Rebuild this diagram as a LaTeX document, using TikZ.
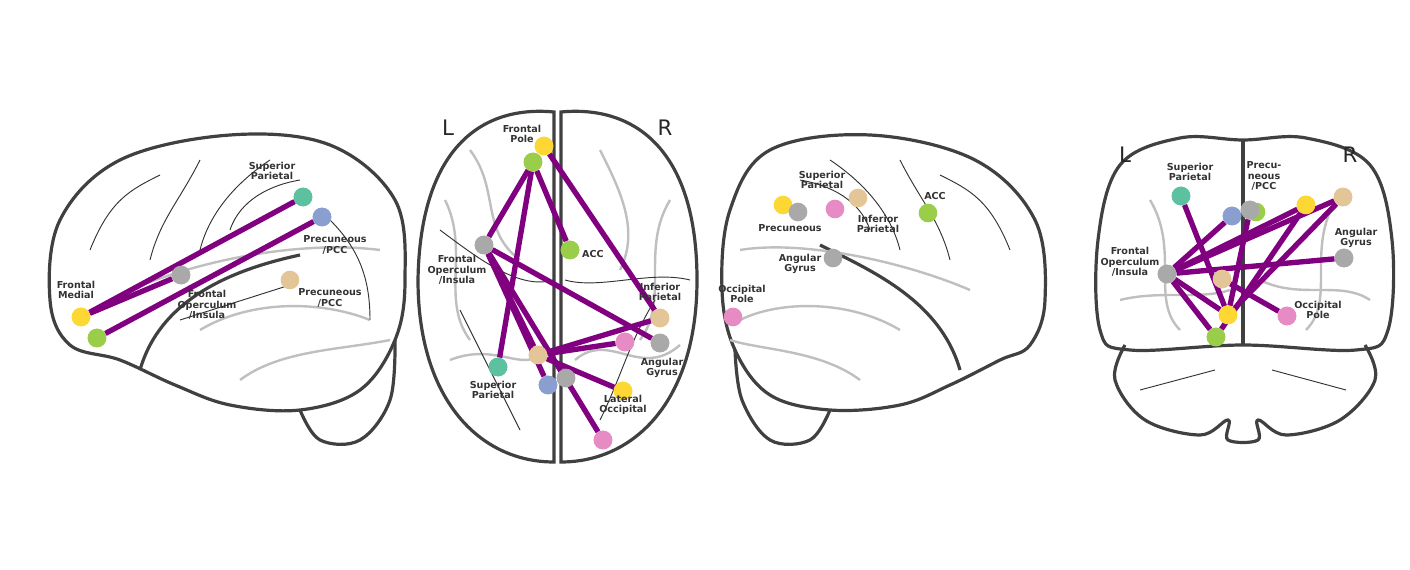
\documentclass[tikz,border=0pt]{standalone}
\usepackage{fontspec}
\setmainfont{DejaVu Sans}
\begin{document}
\begin{tikzpicture}[x=0.75pt,y=-0.75pt,
  brain/.style={line width=2.4pt,draw=black!75},
  gyr/.style={line width=1.8pt,draw=black!25},
  sul/.style={line width=0.7pt,draw=black!80},
  roi/.style={circle,minimum size=14pt,inner sep=0pt,fill=#1},
  ed/.style={line width=4pt,draw=ep},
  lab/.style={font=\fontsize{7.2}{7.8}\selectfont\bfseries,text=black!80,align=center,inner sep=1pt},
  big/.style={font=\fontsize{16}{17}\selectfont,text=black!85}]
\definecolor{cy}{HTML}{FDD835}\definecolor{cg}{HTML}{9ACD4A}\definecolor{cgr}{HTML}{A9A9A9}
\definecolor{ct}{HTML}{5CC1A0}\definecolor{cb}{HTML}{8A9FCF}\definecolor{cta}{HTML}{E3C597}
\definecolor{cp}{HTML}{E68BC4}\definecolor{ep}{HTML}{800080}
\useasboundingbox (0,0) rectangle (1410,570);
% ---------- panel 1: left sagittal ----------
\draw[brain] plot[smooth cycle,tension=0.6] coordinates{(50,300)(60,220)(120,160)(230,135)(330,145)(395,200)(405,280)(395,340)(360,390)(300,410)(230,405)(175,385)(120,360)(70,345)};
\draw[brain] plot[smooth,tension=0.6] coordinates{(300,410)(320,440)(360,440)(390,400)(395,340)};
\draw[brain] (140,370) .. controls (160,300) and (230,270) .. (300,255);
\draw[gyr] (130,290) .. controls (200,260) and (300,240) .. (380,250);
\draw[gyr] (200,330) .. controls (250,300) and (320,300) .. (370,320);
\draw[gyr] (240,380) .. controls (280,350) and (340,350) .. (390,340);
\draw[sul] (90,250) .. controls (110,200) and (130,190) .. (160,175);
\draw[sul] (150,260) .. controls (160,220) and (180,200) .. (200,160);
\draw[sul] (200,250) .. controls (210,210) and (240,180) .. (270,160);
\draw[sul] (230,230) .. controls (240,200) and (270,185) .. (300,180);
\draw[sul] (180,320) -- (290,285);
\draw[sul] (330,220) .. controls (360,250) and (370,280) .. (370,320);
\node[roi=ct] (a1) at (303,197) {};
\node[roi=cb] (a2) at (322,217) {};
\node[roi=cgr] (a3) at (181,275) {};
\node[roi=cta] (a4) at (290,280) {};
\node[roi=cy] (a5) at (81,317) {};
\node[roi=cg] (a6) at (97,338) {};
\draw[ed] (a5) -- (a1); \draw[ed] (a5) -- (a3); \draw[ed] (a6) -- (a2);
\node[roi=cy] at (81,317) {}; \node[roi=cg] at (97,338) {};
\node[roi=cgr] at (181,275) {}; \node[roi=ct] at (303,197) {}; \node[roi=cb] at (322,217) {};
\node[lab] at (272,171) {Superior\\Parietal};
\node[lab] at (335,245) {Precuneous\\/PCC};
\node[lab] at (207,305) {Frontal\\Operculum\\/Insula};
\node[lab] at (330,298) {Precuneous\\/PCC};
\node[lab] at (76,290) {Frontal\\Medial};
% ---------- panel 2: axial ----------
\draw[brain] (554,112) .. controls (480,105) and (420,150) .. (418,280) .. controls (418,400) and (480,462) .. (554,462) -- cycle;
\draw[brain] (561,112) .. controls (635,105) and (697,150) .. (697,280) .. controls (697,400) and (635,462) .. (561,462) -- cycle;
\draw[gyr] (445,200) .. controls (470,250) and (440,300) .. (470,340);
\draw[gyr] (450,360) .. controls (500,340) and (530,380) .. (545,345);
\draw[gyr] (670,200) .. controls (640,250) and (670,300) .. (640,340);
\draw[gyr] (575,360) .. controls (610,330) and (640,380) .. (680,345);
\draw[gyr] (470,150) .. controls (500,190) and (480,230) .. (520,260);
\draw[gyr] (600,150) .. controls (620,190) and (640,230) .. (620,270);
\draw[sul] (440,230) .. controls (480,260) and (520,290) .. (553,280);
\draw[sul] (690,280) .. controls (650,270) and (600,290) .. (565,280);
\draw[sul] (460,310) .. controls (480,350) and (500,390) .. (520,430);
\draw[sul] (655,300) .. controls (630,340) and (620,380) .. (600,420);
\node[big] at (448,128) {L}; \node[big] at (665,128) {R};
\node[roi=cy] (b1) at (544,146) {};
\node[roi=cg] (b2) at (533,162) {};
\node[roi=cgr] (b3) at (484,245) {};
\node[roi=cg] (b4) at (570,250) {};
\node[roi=cta] (b5) at (660,318) {};
\node[roi=cp] (b6) at (625,342) {};
\node[roi=cgr] (b7) at (660,343) {};
\node[roi=cta] (b8) at (538,355) {};
\node[roi=ct] (b9) at (498,367) {};
\node[roi=cb] (b10) at (548,385) {};
\node[roi=cgr] (b11) at (566,378) {};
\node[roi=cy] (b12) at (623,391) {};
\node[roi=cp] (b13) at (603,440) {};
\draw[ed] (b2) -- (b3); \draw[ed] (b2) -- (b9); \draw[ed] (b2) -- (b4);
\draw[ed] (b1) -- (b5); \draw[ed] (b3) -- (b7); \draw[ed] (b3) -- (b10);
\draw[ed] (b3) -- (b8); \draw[ed] (b8) -- (b5); \draw[ed] (b8) -- (b6);
\draw[ed] (b8) -- (b12); \draw[ed] (b3) -- (b13);
\node[roi=cy] at (544,146) {}; \node[roi=cg] at (533,162) {};
\node[roi=cgr] at (484,245) {}; \node[roi=cta] at (538,355) {};
\node[roi=cb] at (548,385) {}; \node[roi=cgr] at (566,378) {};
\node[roi=cg] at (570,250) {}; \node[roi=cta] at (660,318) {};
\node[roi=cp] at (625,342) {}; \node[roi=cgr] at (660,343) {};
\node[roi=ct] at (498,367) {}; \node[roi=cy] at (623,391) {}; \node[roi=cp] at (603,440) {};
\node[lab] at (522,134) {Frontal\\Pole};
\node[lab] at (593,254) {ACC};
\node[lab] at (457,270) {Frontal\\Operculum\\/Insula};
\node[lab] at (660,292) {Inferior\\Parietal};
\node[lab] at (662,368) {Angular\\Gyrus};
\node[lab] at (493,390) {Superior\\Parietal};
\node[lab] at (623,405) {Lateral\\Occipital};
% ---------- panel 3: right sagittal ----------
\draw[brain] plot[smooth cycle,tension=0.6] coordinates{(1045,300)(1035,220)(975,160)(870,135)(770,150)(730,210)(722,290)(735,350)(770,395)(830,410)(900,405)(950,385)(1000,360)(1030,345)};
\draw[brain] plot[smooth,tension=0.6] coordinates{(830,410)(810,440)(770,440)(742,400)(735,350)};
\draw[brain] (960,370) .. controls (940,300) and (870,270) .. (820,245);
\draw[gyr] (970,290) .. controls (900,260) and (800,240) .. (740,250);
\draw[gyr] (900,330) .. controls (850,300) and (780,300) .. (740,320);
\draw[gyr] (860,380) .. controls (820,350) and (760,350) .. (730,340);
\draw[sul] (1010,250) .. controls (990,200) and (970,190) .. (940,175);
\draw[sul] (950,260) .. controls (940,220) and (920,200) .. (900,160);
\draw[sul] (900,250) .. controls (890,210) and (860,180) .. (830,160);
\draw[sul] (870,230) .. controls (860,200) and (830,185) .. (800,180);
\node[roi=cy] (c1) at (783,205) {};
\node[roi=cgr] (c2) at (798,212) {};
\node[roi=cp] (c3) at (835,209) {};
\node[roi=cta] (c4) at (858,198) {};
\node[roi=cg] (c5) at (928,213) {};
\node[roi=cgr] (c6) at (833,258) {};
\node[roi=cp] (c7) at (733,317) {};
\node[lab] at (822,180) {Superior\\Parietal};
\node[lab] at (790,228) {Precuneous};
\node[lab] at (878,224) {Inferior\\Parietal};
\node[lab] at (935,196) {ACC};
\node[lab] at (800,264) {Angular\\Gyrus};
\node[lab] at (742,294) {Occipital\\Pole};
% ---------- panel 4: coronal ----------
\draw[brain] plot[smooth cycle,tension=0.6] coordinates{(1243,140)(1180,138)(1120,165)(1098,240)(1100,330)(1130,350)(1243,345)(1356,350)(1388,330)(1392,240)(1370,165)(1306,138)};
\draw[brain] (1243,140) -- (1243,345);
\draw[brain] plot[smooth,tension=0.6] coordinates{(1125,345)(1115,380)(1145,420)(1200,435)(1228,420)(1228,440)(1258,440)(1258,420)(1286,435)(1340,420)(1375,380)(1365,345)};
\draw[sul] (1140,390) -- (1215,370); \draw[sul] (1346,390) -- (1272,370);
\draw[gyr] (1150,200) .. controls (1180,250) and (1150,300) .. (1180,330);
\draw[gyr] (1336,200) .. controls (1306,250) and (1336,300) .. (1306,330);
\draw[gyr] (1260,280) .. controls (1300,300) and (1340,280) .. (1370,300);
\draw[gyr] (1120,300) .. controls (1160,290) and (1200,300) .. (1230,290);
\node[big] at (1125,155) {L}; \node[big] at (1350,155) {R};
\node[roi=ct] (d1) at (1181,196) {};
\node[roi=cb] (d2) at (1232,216) {};
\node[roi=cg] (d3b) at (1256,212) {};
\node[roi=cgr] (d3) at (1250,210) {};
\node[roi=cy] (d4) at (1306,205) {};
\node[roi=cta] (d5) at (1343,197) {};
\node[roi=cgr] (d6) at (1344,258) {};
\node[roi=cgr] (d7) at (1167,274) {};
\node[roi=cta] (d8) at (1222,279) {};
\node[roi=cy] (d9) at (1228,315) {};
\node[roi=cp] (d10) at (1287,316) {};
\node[roi=cg] (d11) at (1216,337) {};
\draw[ed] (d1) -- (d9); \draw[ed] (d7) -- (d2); \draw[ed] (d7) -- (d4);
\draw[ed] (d7) -- (d6); \draw[ed] (d7) -- (d9); \draw[ed] (d7) -- (d11);
\draw[ed] (d3) -- (d9); \draw[ed] (d5) -- (d9); \draw[ed] (d5) -- (d7);
\draw[ed] (d8) -- (d10); \draw[ed] (d4) -- (d11);
\node[roi=cgr] at (1167,274) {}; \node[roi=cy] at (1228,315) {};
\node[roi=cg] at (1216,337) {}; \node[roi=cta] at (1222,279) {};
\node[roi=cb] at (1232,216) {}; \node[roi=cgr] at (1250,210) {};
\node[roi=cy] at (1306,205) {}; \node[roi=cta] at (1343,197) {};
\node[roi=cgr] at (1344,258) {}; \node[roi=ct] at (1181,196) {};
\node[roi=cp] at (1287,316) {};
\node[lab] at (1190,172) {Superior\\Parietal};
\node[lab] at (1264,176) {Precu-\\neous\\/PCC};
\node[lab] at (1130,262) {Frontal\\Operculum\\/Insula};
\node[lab] at (1356,238) {Angular\\Gyrus};
\node[lab] at (1318,310) {Occipital\\Pole};
\end{tikzpicture}
\end{document}
